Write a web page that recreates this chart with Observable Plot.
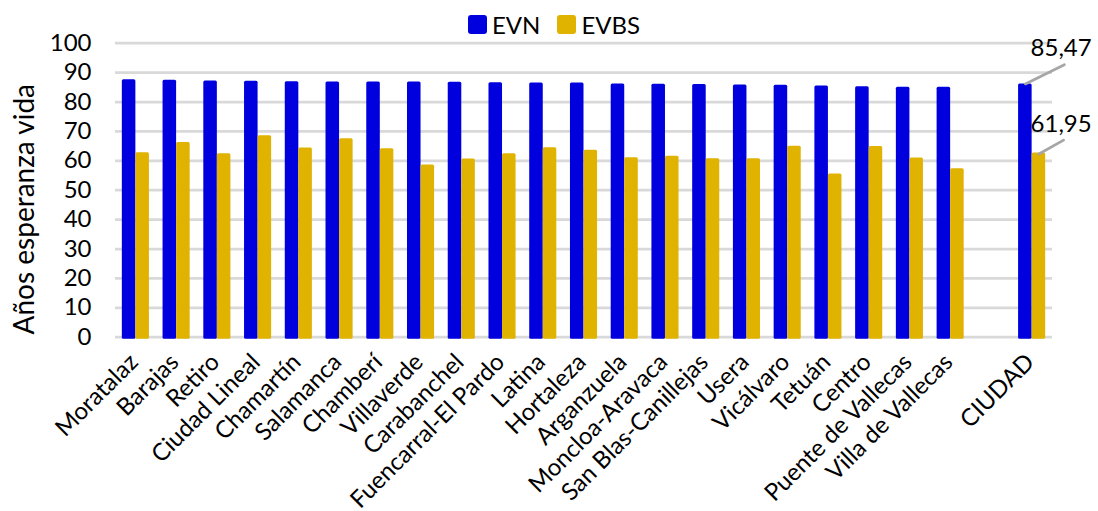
<!DOCTYPE html>
<html><head><meta charset="utf-8">
<script src="https://cdn.jsdelivr.net/npm/d3@7"></script>
<script src="https://cdn.jsdelivr.net/npm/@observablehq/plot@0.6"></script>
<style>
body{margin:0;background:#fff;font-family:Lato,sans-serif;}
#wrap{position:relative;width:1098px;height:511px;}
#legend{position:absolute;top:15px;left:468px;display:flex;align-items:center;font-size:24px;color:#000;line-height:19px;}
.sw{width:19px;height:19px;border-radius:3px;margin-right:5px;}
.it{display:flex;align-items:center;margin-right:17px;}
</style></head><body>
<div id="wrap"><div id="legend"></div></div>
<script>
const districts = ["Moratalaz","Barajas","Retiro","Ciudad Lineal","Chamartín","Salamanca","Chamberí","Villaverde","Carabanchel","Fuencarral-El Pardo","Latina","Hortaleza","Arganzuela","Moncloa-Aravaca","San Blas-Canillejas","Usera","Vicálvaro","Tetuán","Centro","Puente de Vallecas","Villa de Vallecas"];
const evn  = [86.85,86.7,86.45,86.35,86.25,86.15,86.15,86.1,86.0,85.9,85.8,85.75,85.45,85.35,85.25,85.1,85.05,84.8,84.5,84.3,84.3];
const evbs = [62.05,65.55,61.7,67.8,63.7,66.8,63.4,57.85,59.95,61.75,63.75,62.95,60.35,60.85,60.05,60.05,64.25,54.85,64.15,60.25,56.65];
const cityLabel = "CIUDAD";
const cityEVN = 85.47;
const cityEVBS = 61.95;
const seriesNames = ["EVN","EVBS"];
const seriesColors = ["#0000de","#dfb300"];
const yTicks = [0,10,20,30,40,50,60,70,80,90,100];
const yTitle = "Años esperanza vida";

const spacer = " ";
const cats = [...districts, spacer, cityLabel];
const rows = [];
districts.forEach((d,i)=>{rows.push({cat:d, serie:"EVN", v:evn[i]}); rows.push({cat:d, serie:"EVBS", v:evbs[i]});});
rows.push({cat:cityLabel, serie:"EVN", v:cityEVN}, {cat:cityLabel, serie:"EVBS", v:cityEVBS});

const W = 1098, H = 511, mL = 115, mR = 46, mT = 42.7, mB = 174.3;
const pad = 0.335;
const step = (W - mL - mR) / cats.length;
const half = step * (1 - pad) / 2;
const fmt = d => d.toFixed(2).replace(".", ",");
const lineShape = {draw(context, l) { context.moveTo(0, 0); context.lineTo(0, -l); }};

const chart = Plot.plot({
  width: W, height: H,
  marginTop: mT, marginBottom: mB, marginLeft: mL, marginRight: mR,
  x: {domain: cats, paddingInner: pad, paddingOuter: pad/2, round: false, axis: null},
  y: {domain: [0, 100], axis: null},
  color: {domain: seriesNames, range: seriesColors},
  style: {fontFamily: "Lato, sans-serif", background: "white", color: "black"},
  marks: [
    Plot.ruleY(yTicks, {stroke: "#d9d9d9", strokeWidth: 2.75}),
    Plot.barY(rows.filter(r => r.serie === seriesNames[0]), {x: "cat", y: "v", fill: "serie", insetRight: half, insetTop: -2, insetBottom: -2, rx: 1.5}),
    Plot.barY(rows.filter(r => r.serie === seriesNames[1]), {x: "cat", y: "v", fill: "serie", insetLeft: half, insetTop: -2, insetBottom: -2, rx: 1.5}),
    Plot.axisY(yTicks, {tickSize: 0, tickPadding: 24, fontSize: 24, label: null}),
    Plot.axisX({tickRotate: -45, tickSize: 0, tickPadding: 21, dx: -2, fontSize: 24, label: null}),
    Plot.text([yTitle], {frameAnchor: "left", textAnchor: "middle", rotate: -90, dx: -90, dy: 19, fontSize: 28}),
    Plot.vector([cityEVN], {x: () => cityLabel, y: d => d, dx: -half/2, dy: -2, length: 43.5, rotate: 63.7, anchor: "start", stroke: "#a6a6a6", strokeWidth: 2.75, shape: lineShape}),
    Plot.vector([cityEVBS], {x: () => cityLabel, y: d => d, dx: half/2, dy: -1, length: 28.4, rotate: 60.5, anchor: "start", stroke: "#a6a6a6", strokeWidth: 2.75, shape: lineShape}),
    Plot.text([cityEVN], {x: () => cityLabel, y: d => d, text: fmt, dx: 29, dy: -38, fontSize: 24}),
    Plot.text([cityEVBS], {x: () => cityLabel, y: d => d, text: fmt, dx: 29, dy: -31, fontSize: 24})
  ]
});
document.getElementById("wrap").prepend(chart);
chart.style.position = "absolute"; chart.style.left = "0"; chart.style.top = "0";

const legend = document.getElementById("legend");
legend.style.zIndex = 2;
seriesNames.forEach((n, i) => {
  const it = document.createElement("div"); it.className = "it";
  const sw = document.createElement("div"); sw.className = "sw"; sw.style.background = seriesColors[i];
  const tx = document.createElement("span"); tx.textContent = n;
  it.append(sw, tx); legend.append(it);
});
</script>
</body></html>
